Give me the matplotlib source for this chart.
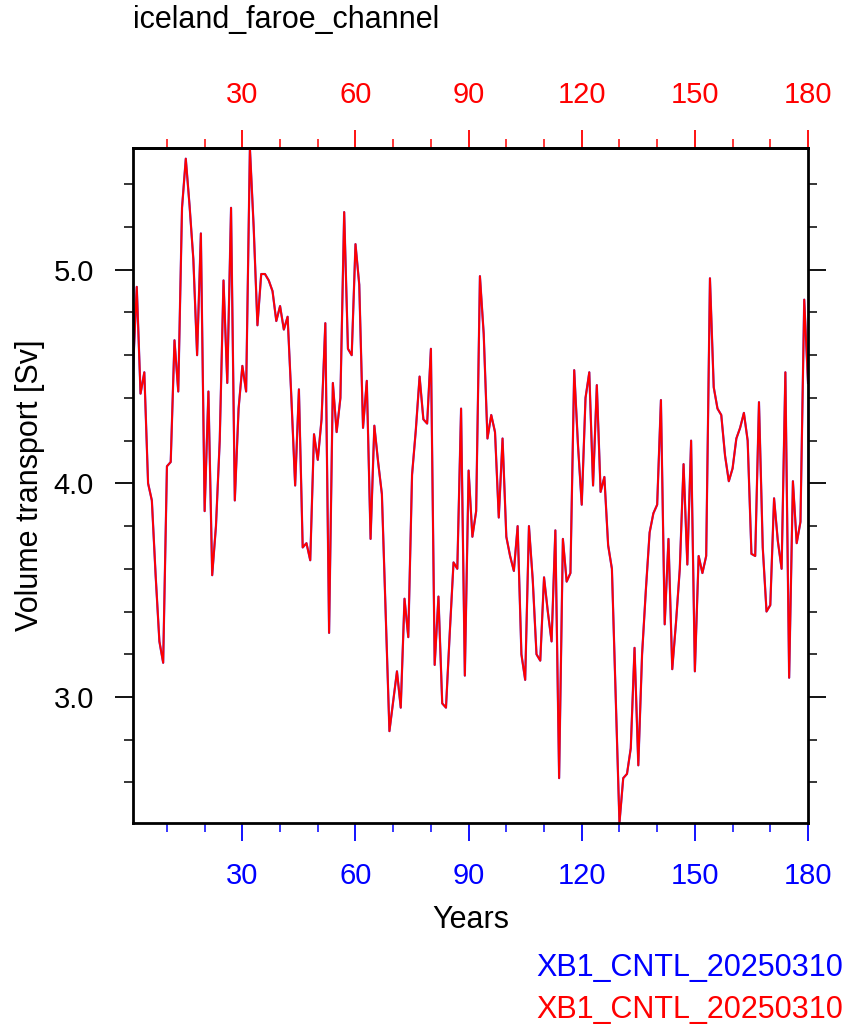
import numpy as np
import matplotlib
matplotlib.use("Agg")
import matplotlib.pyplot as plt
from matplotlib.ticker import MultipleLocator

plt.rcParams['font.family'] = ['Liberation Sans', 'DejaVu Sans']

# transport series (Sv), one value per model year 1..180
transport = [
    4.53, 4.92, 4.42, 4.52, 4.00, 3.92, 3.57, 3.26, 3.16, 4.08,
    4.10, 4.67, 4.43, 5.29, 5.52, 5.30, 5.05, 4.60, 5.17, 3.87,
    4.43, 3.57, 3.80, 4.20, 4.95, 4.47, 5.29, 3.92, 4.35, 4.55,
    4.43, 5.57, 5.20, 4.74, 4.98, 4.98, 4.95, 4.90, 4.76, 4.83,
    4.72, 4.78, 4.40, 3.99, 4.44, 3.70, 3.72, 3.64, 4.23, 4.11,
    4.30, 4.75, 3.30, 4.47, 4.24, 4.40, 5.27, 4.63, 4.60, 5.12,
    4.93, 4.26, 4.48, 3.74, 4.27, 4.10, 3.95, 3.40, 2.84, 2.98,
    3.12, 2.95, 3.46, 3.28, 4.04, 4.25, 4.50, 4.30, 4.28, 4.63,
    3.15, 3.47, 2.97, 2.95, 3.30, 3.63, 3.60, 4.35, 3.10, 4.06,
    3.75, 3.87, 4.97, 4.70, 4.21, 4.32, 4.24, 3.84, 4.21, 3.75,
    3.66, 3.59, 3.80, 3.20, 3.08, 3.80, 3.55, 3.20, 3.17, 3.56,
    3.40, 3.26, 3.78, 2.62, 3.74, 3.54, 3.58, 4.53, 4.18, 3.90,
    4.40, 4.52, 3.99, 4.46, 3.96, 4.03, 3.71, 3.60, 3.00, 2.41,
    2.62, 2.64, 2.76, 3.23, 2.68, 3.20, 3.50, 3.77, 3.86, 3.90,
    4.39, 3.34, 3.74, 3.13, 3.35, 3.60, 4.09, 3.62, 4.20, 3.12,
    3.66, 3.58, 3.66, 4.96, 4.45, 4.35, 4.32, 4.13, 4.01, 4.07,
    4.21, 4.26, 4.33, 4.20, 3.67, 3.66, 4.38, 3.70, 3.40, 3.43,
    3.93, 3.73, 3.60, 4.52, 3.09, 4.01, 3.72, 3.82, 4.86, 4.47,
]
years = np.arange(1, len(transport) + 1)

case_name = "XB1_CNTL_20250310"
region = "iceland_faroe_channel"
x_ticks = [30, 60, 90, 120, 150, 180]
y_ticks = [3.0, 4.0, 5.0]

fig = plt.figure(figsize=(8.48, 10.35), dpi=100)
ax = fig.add_axes([133/848, 1 - 823/1035, (808 - 133)/848, (823 - 148)/1035])

# blue case drawn first, red case on top (same run)
ax.plot(years, transport, color='blue', lw=1.6, alpha=0.7)
ax.plot(years, transport, color='red', lw=1.4)

ax.set_xlim(years[0], years[-1])
ax.set_ylim(min(transport), max(transport))

ax.set_xticks(x_ticks)
ax.set_xticklabels([str(t) for t in x_ticks])
ax.xaxis.set_minor_locator(MultipleLocator(10))
ax.set_yticks(y_ticks)
ax.set_yticklabels([f"{t:.1f}" for t in y_ticks])
ax.yaxis.set_minor_locator(MultipleLocator(0.2))

for s in ax.spines.values():
    s.set_linewidth(2.0)

ax.tick_params(axis='both', which='major', direction='out', length=13, width=1.3,
               labelsize=21, pad=15)
ax.tick_params(axis='both', which='minor', direction='out', length=6.5, width=1.1)
ax.tick_params(axis='y', which='both', left=True, right=True, labelright=False)

# bottom axis in blue, top axis in red
ax.tick_params(axis='x', which='both', bottom=True, labelbottom=True,
               top=False, labeltop=False, colors='blue')
ax2 = ax.secondary_xaxis('top')
ax2.set_xticks(x_ticks)
ax2.set_xticklabels([str(t) for t in x_ticks])
ax2.xaxis.set_minor_locator(MultipleLocator(10))
ax2.tick_params(axis='x', which='major', direction='out', length=13, width=1.3,
                labelsize=21, pad=15, colors='red')
ax2.tick_params(axis='x', which='minor', direction='out', length=6.5, width=1.1, colors='red')
ax2.spines['top'].set_linewidth(2.0)
ax2.spines['top'].set_color('black')

fig.text(133/848, 1 - 20/1035, region, fontsize=22, ha='left', va='center')
fig.text(30/848, 1 - 485/1035, "Volume transport [Sv]", fontsize=22,
         rotation=90, ha='center', va='center')
fig.text(471/848, 1 - 920/1035, "Years", fontsize=22, ha='center', va='center')
fig.text(843/848, 1 - 968/1035, case_name, fontsize=22, color='blue', ha='right', va='center')
fig.text(843/848, 1 - 1010/1035, case_name, fontsize=22, color='red', ha='right', va='center')

fig.savefig("out.png", dpi=100)
